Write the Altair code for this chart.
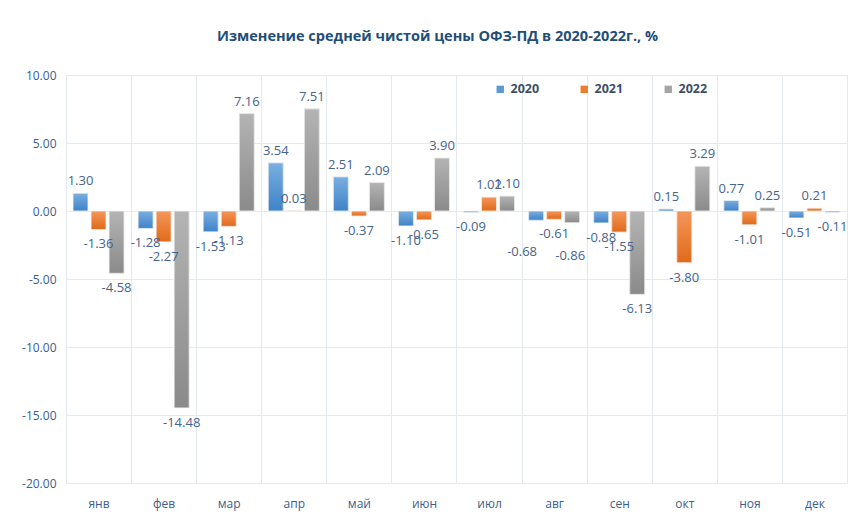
import altair as alt
import pandas as pd

months = ["янв", "фев", "мар", "апр", "май", "июн", "июл", "авг", "сен", "окт", "ноя", "дек"]
years = ["2020", "2021", "2022"]
v2020 = [1.30, -1.28, -1.53, 3.54, 2.51, -1.10, -0.09, -0.68, -0.88, 0.15, 0.77, -0.51]
v2021 = [-1.36, -2.27, -1.13, 0.03, -0.37, -0.65, 1.02, -0.61, -1.55, -3.80, -1.01, 0.21]
v2022 = [-4.58, -14.48, 7.16, 7.51, 2.09, 3.90, 1.10, -0.86, -6.13, 3.29, 0.25, -0.11]
y_ticks = [10, 5, 0, -5, -10, -15, -20]

series = {"2020": v2020, "2021": v2021, "2022": v2022}
rows = []
for yr in years:
    for m, v in zip(months, series[yr]):
        rows.append({"month": m, "year": yr, "value": v})
df = pd.DataFrame(rows)

solid = {"2020": "#5b9bd5", "2021": "#ed7d31", "2022": "#a5a5a5"}
grads = {
    "2020": ("#7aafe0", "#3f82c8"),
    "2021": ("#f5965a", "#e06a1a"),
    "2022": ("#b4b4b4", "#8a8a8a"),
}

label_color = "#44648c"
axis_color = "#3b5e8c"
grid_color = "#e4e8ef"
font = "Open Sans"
fmt_expr = "replace(format(datum.value, '.2f'), '\u2212', '-')"

x_enc = alt.X("month:N", sort=months, title=None,
              scale=alt.Scale(paddingInner=0, paddingOuter=0),
              axis=alt.Axis(tickBand="extent", grid=True, gridColor=grid_color,
                            domain=False, ticks=False, labelAngle=0,
                            labelColor=axis_color, labelFont=font, labelFontSize=12,
                            labelPadding=15))
xo_enc = alt.XOffset("year:N", sort=years,
                     scale=alt.Scale(domain=years, paddingInner=0.17, paddingOuter=0.39))
y_enc = alt.Y("value:Q", title=None,
              scale=alt.Scale(domain=[-20, 10], nice=False),
              axis=alt.Axis(values=y_ticks, labelExpr=fmt_expr, grid=True, gridColor=grid_color,
                            domain=False, ticks=False, labelColor=axis_color,
                            labelFont=font, labelFontSize=12, labelPadding=10))

base = alt.Chart(df).transform_calculate(label=fmt_expr)

legend_bars = base.mark_bar().encode(
    x=x_enc, xOffset=xo_enc, y=y_enc,
    color=alt.Color("year:N", sort=years,
                    scale=alt.Scale(domain=years, range=[solid[y] for y in years]),
                    legend=alt.Legend(title=None, orient="none", direction="horizontal",
                                      legendX=428, legendY=8, symbolType="square",
                                      symbolSize=55, symbolStrokeWidth=0,
                                      labelFont=font, labelFontSize=12.5,
                                      labelFontWeight="bold", labelColor="#3d4f66",
                                      columnPadding=38, labelOffset=4)),
)

layers = [legend_bars]
for yr in years:
    top, bot = grads[yr]
    layers.append(
        base.transform_filter(alt.datum.year == yr).mark_bar(
            color=alt.Gradient(gradient="linear",
                               stops=[alt.GradientStop(color=top, offset=0),
                                      alt.GradientStop(color=bot, offset=1)],
                               x1=0, x2=0, y1=0, y2=1),
            stroke="#f4f4f4", strokeWidth=0.8,
        ).encode(x=x_enc, xOffset=xo_enc, y=y_enc)
    )

# labels that the reference moved further down to avoid collisions (август)
lowered = "(datum.month == 'авг' && (datum.year == '2020' || datum.year == '2022'))"

pos_labels = base.transform_filter(alt.datum.value >= 0).mark_text(
    baseline="middle", dy=-12, font=font, fontSize=13, color=label_color
).encode(x=x_enc, xOffset=xo_enc, y=y_enc, text="label:N")

neg_labels = base.transform_filter(f"datum.value < 0 && !{lowered}").mark_text(
    baseline="middle", dy=15, font=font, fontSize=13, color=label_color
).encode(x=x_enc, xOffset=xo_enc, y=y_enc, text="label:N")

low_2020 = base.transform_filter(f"{lowered} && datum.year == '2020'").mark_text(
    baseline="middle", dy=32, dx=-14, font=font, fontSize=13, color=label_color
).encode(x=x_enc, xOffset=xo_enc, y=y_enc, text="label:N")

low_2022 = base.transform_filter(f"{lowered} && datum.year == '2022'").mark_text(
    baseline="middle", dy=33, dx=-2, font=font, fontSize=13, color=label_color
).encode(x=x_enc, xOffset=xo_enc, y=y_enc, text="label:N")

chart = alt.layer(*layers, pos_labels, neg_labels, low_2020, low_2022).properties(
    width=781, height=408,
    title=alt.TitleParams(
        "Изменение средней чистой цены ОФЗ-ПД в 2020-2022г., %",
        font=font, fontSize=14.5, fontWeight="bold", color="#1f4e79",
        anchor="middle", dx=-19, offset=25,
    ),
    autosize=alt.AutoSizeParams(type="none"),
    padding={"left": 58, "top": 67, "right": 13, "bottom": 39},
).configure_view(stroke=grid_color).configure(background="white")

chart.save("out.html", embed_options={"renderer": "svg", "actions": False})
